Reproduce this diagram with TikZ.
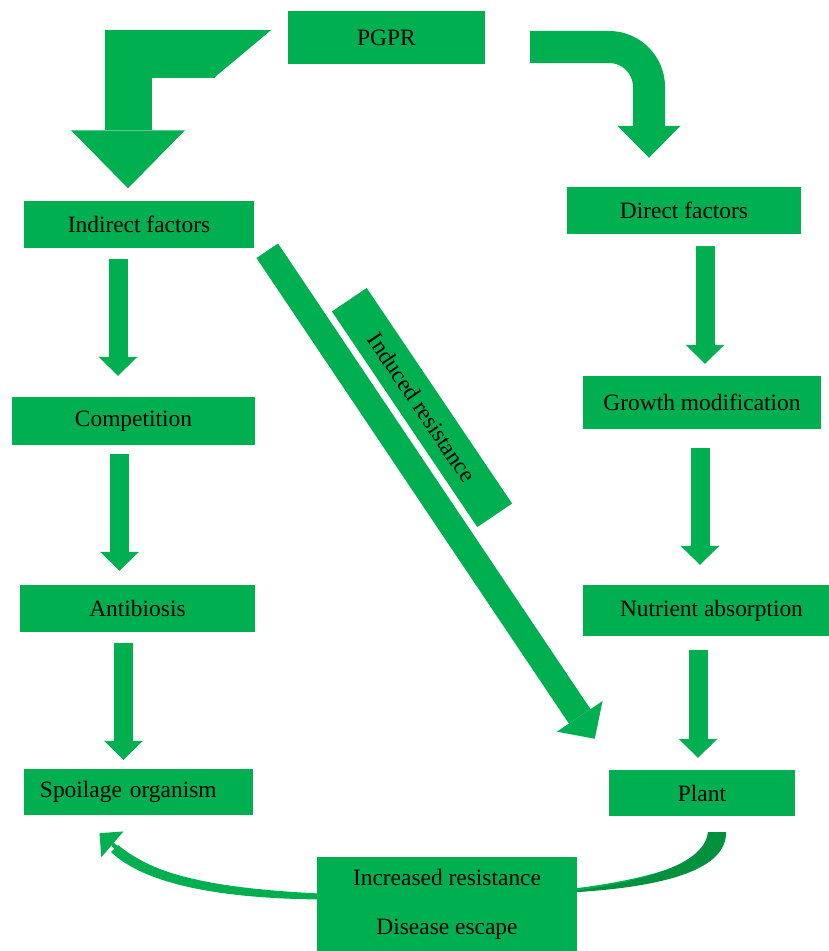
\documentclass[tikz,border=0pt]{standalone}
\usepackage{fontspec}
\setmainfont{Liberation Serif}
\usetikzlibrary{arrows.meta,calc}
\definecolor{leaf}{HTML}{00B050}
\definecolor{leafdark}{HTML}{00913F}
\begin{document}
\begin{tikzpicture}[x=0.03cm,y=-0.03cm,
		box/.style={fill=leaf,inner sep=0pt,font=\fontsize{20}{24}\selectfont},
		down/.style={draw=leaf,line width=0.57cm,-{Triangle[width=1.17cm,length=0.57cm,line width=0pt]}},
		elbow/.style={draw=leaf,line width=1.41cm,-{Triangle[width=3.42cm,length=1.74cm,line width=0pt]}},
		hook/.style={draw=leaf,line width=0.96cm,rounded corners=1.2cm,-{Triangle[width=1.89cm,length=0.96cm,line width=0pt]}},
		slant/.style={draw=leaf,line width=0.78cm,-{Triangle[width=1.65cm,length=0.81cm,line width=0pt]}},
		swoosh/.style={draw=leaf,line width=0.12cm,-{Triangle[width=1.02cm,length=0.51cm,line width=0pt]}}]
		\useasboundingbox (0,0) rectangle (828,951);
		% boxes
		\node[box,minimum width=5.91cm,minimum height=1.59cm] (pgpr) at (386.5,37.5) {PGPR};
		\node[box,minimum width=6.9cm,minimum height=1.41cm] (ind) at (139,224) {Indirect factors};
		\node[box,minimum width=7.02cm,minimum height=1.41cm] (dir) at (684,210.5) {Direct factors};
		\node[box,minimum width=7.29cm,minimum height=1.44cm] (comp) at (133.5,421) {Competition};
		\node[box,minimum width=7.14cm,minimum height=1.59cm] (grow) at (702,402.5) {Growth modification};
		\node[box,minimum width=7.05cm,minimum height=1.41cm] (anti) at (137.5,608.5) {Antibiosis};
		\node[box,minimum width=7.71cm,minimum height=1.53cm] (nutr) at (711.5,610.5) {Nutrient absorption};
		\node[box,text width=5.91cm,inner xsep=0.48cm,align=left,minimum height=1.38cm] (spoil) at (138.5,792) {Spoilage organism};
		\node[box,minimum width=5.58cm,minimum height=1.38cm] (plant) at (702,793) {Plant};
		\node[box,rotate=-56,minimum width=7.8cm,minimum height=1.26cm] (ir) at (422,407.5) {Induced resistance};
		% arrows from PGPR
		\begin{scope}
			\clip (0,0) -- (307,0) -- (270,31) -- (215,77) -- (215,200) -- (0,200) -- cycle;
			\draw[elbow] ($(pgpr.west)+(-13,16.5)$) -| ($(ind.north)+(-11,-12)$);
		\end{scope}
		\draw[hook] ($(pgpr.east)+(45,9.5)$) -| ($(dir.north)+(-35,-29)$);
		% left column
		\draw[down] ($(ind.south)+(-21,11)$) -- ($(comp.north)+(-15.5,-21)$);
		\draw[down] ($(comp.south)+(-14,9)$) -- ($(anti.north)+(-18,-14)$);
		\draw[down] ($(anti.south)+(-14,11)$) -- ($(spoil.north)+(-15,-9)$);
		% right column
		\draw[down] ($(dir.south)+(21,12)$) -- ($(grow.north)+(3,-12)$);
		\draw[down] ($(grow.south)+(-2,19)$) -- ($(nutr.north)+(-11.5,-20)$);
		\draw[down] ($(nutr.south)+(-13.5,14)$) -- ($(plant.north)+(-4,-12)$);
		% induced resistance
		\draw[slant] ($(ind.south east)+(13,3)$) -- ($(plant.north west)+(-14,-31)$);
		% back to the spoilage organism
		\draw[swoosh] ($(plant.south)+(15,16)$) .. controls +(0,45) and +(120,0) .. (447,898)
			.. controls +(-200,0) and +(60.5,52) .. ($(spoil.south)+(-39,18)$);
		\fill[leaf] (330,899.5) .. controls (240,899.5) and (150,889) .. (111,852)
			-- (118,845) .. controls (160,880) and (240,895.5) .. (330,896) -- cycle;
		\fill[leafdark] (708,832) .. controls (705,860) and (660,880) .. (560,893)
			.. controls (670,888) and (727,868) .. (726,832) -- cycle;
		\node[box,align=center,minimum width=7.8cm,minimum height=2.82cm] (outc) at (447,904) {Increased resistance\\[18pt]Disease escape};
\end{tikzpicture}
\end{document}
